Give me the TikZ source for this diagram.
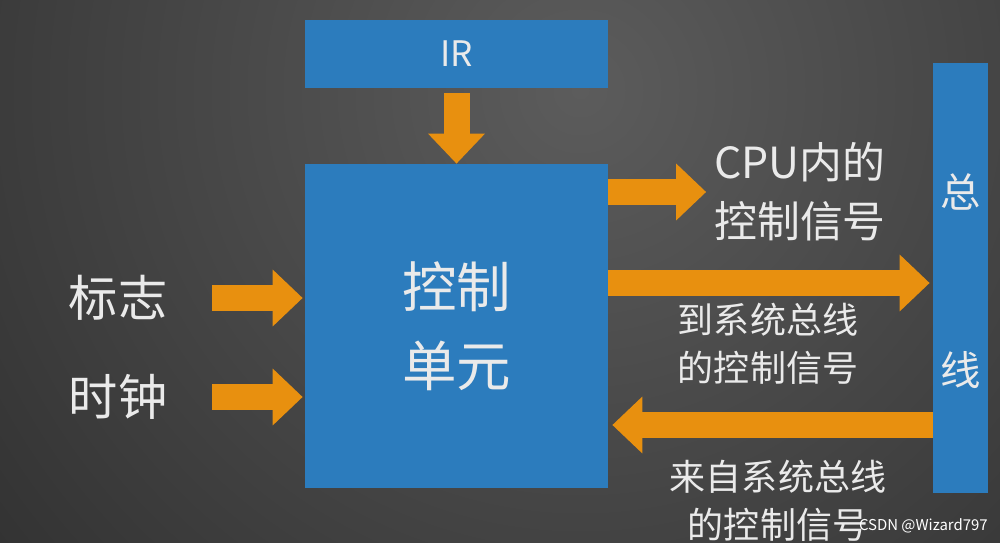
\documentclass[tikz,border=0pt]{standalone}
\usepackage{fontspec}
\setmainfont{Noto Sans CJK SC}
\usetikzlibrary{arrows.meta,positioning}
\definecolor{boxblue}{HTML}{2C7CBD}
\definecolor{arrorange}{HTML}{E8900F}
\definecolor{bgdark}{HTML}{2A2A2A}
\definecolor{bglight}{HTML}{5C5C5C}
\definecolor{txtgray}{HTML}{EAEAEA}
\begin{document}
\begin{tikzpicture}[x=0.02cm,y=-0.02cm,line join=round,
	box/.style={rectangle,fill=boxblue,inner sep=0,text=txtgray},
	lbl/.style={text=txtgray,align=center,inner sep=1pt},
	flow/.style={draw=arrorange,line width=0.52cm,-{Triangle[width=1.1cm,length=0.6cm]}}]
	% background
	\fill[bgdark] (0,0) rectangle (1000,543);
	\begin{scope}
	\clip (0,0) rectangle (1000,543);
	\shade[inner color=bglight,outer color=bgdark] (580,90) circle (18cm);
	\end{scope}
	\useasboundingbox (0,0) rectangle (1000,543);
	% boxes
	\path (456.5,54)node[box,minimum width=6.06cm,minimum 
	height=1.36cm,font=\fontsize{20}{24}\selectfont](ir){IR}
	(456.5,326)node[box,minimum width=6.06cm,minimum 
	height=6.48cm,align=center,font=\fontsize{31}{45}\selectfont](cu){控制\\单元}
	(960.5,278)node[box,minimum width=1.1cm,minimum height=8.6cm](bus){};
	\path (bus.north)++(0,129)node[lbl,font=\fontsize{23}{28}\selectfont](zong){总}
	(bus.north)++(0,307)node[lbl,font=\fontsize{23}{28}\selectfont](xian){线};
	% labels
	\path (118,298)node[lbl,font=\fontsize{28}{34}\selectfont](flag){标志}
	(118,397)node[lbl,font=\fontsize{28}{34}\selectfont](clk){时钟};
	\path (800,192)node[lbl,font=\fontsize{24.4}{33.5}\selectfont](cpu){CPU内的\\控制信号}
	(768,344)node[lbl,font=\fontsize{20.5}{27}\selectfont](tobus){到系统总线\\的控制信号}
	(778,501)node[lbl,font=\fontsize{20.5}{27}\selectfont](frombus){来自系统总线\\的控制信号};
	\node[font=\fontsize{8.5}{10}\selectfont,text=white,anchor=east,inner sep=0](mark) 
	at (988,526){CSDN @Wizard797};
	\coordinate (y1) at (0,283);
	\coordinate (y2) at (0,425);
	% arrows
	\draw[flow,shorten <=0.1cm](ir.south)--(cu.north);
	\draw[flow,shorten <=0.86cm,shorten >=0.04cm](flag.east)--(cu.west|-flag.east);
	\draw[flow,shorten <=0.86cm,shorten >=0.04cm](clk.east)--(cu.west|-clk.east);
	\draw[flow,shorten >=0.12cm](cu.east|-cpu.west)--(cpu.west);
	\draw[flow,shorten >=0.06cm](cu.east|-y1)--(bus.west|-y1);
	\draw[flow,shorten >=0.08cm](bus.west|-y2)--(cu.east|-y2);
\end{tikzpicture}
\end{document}
